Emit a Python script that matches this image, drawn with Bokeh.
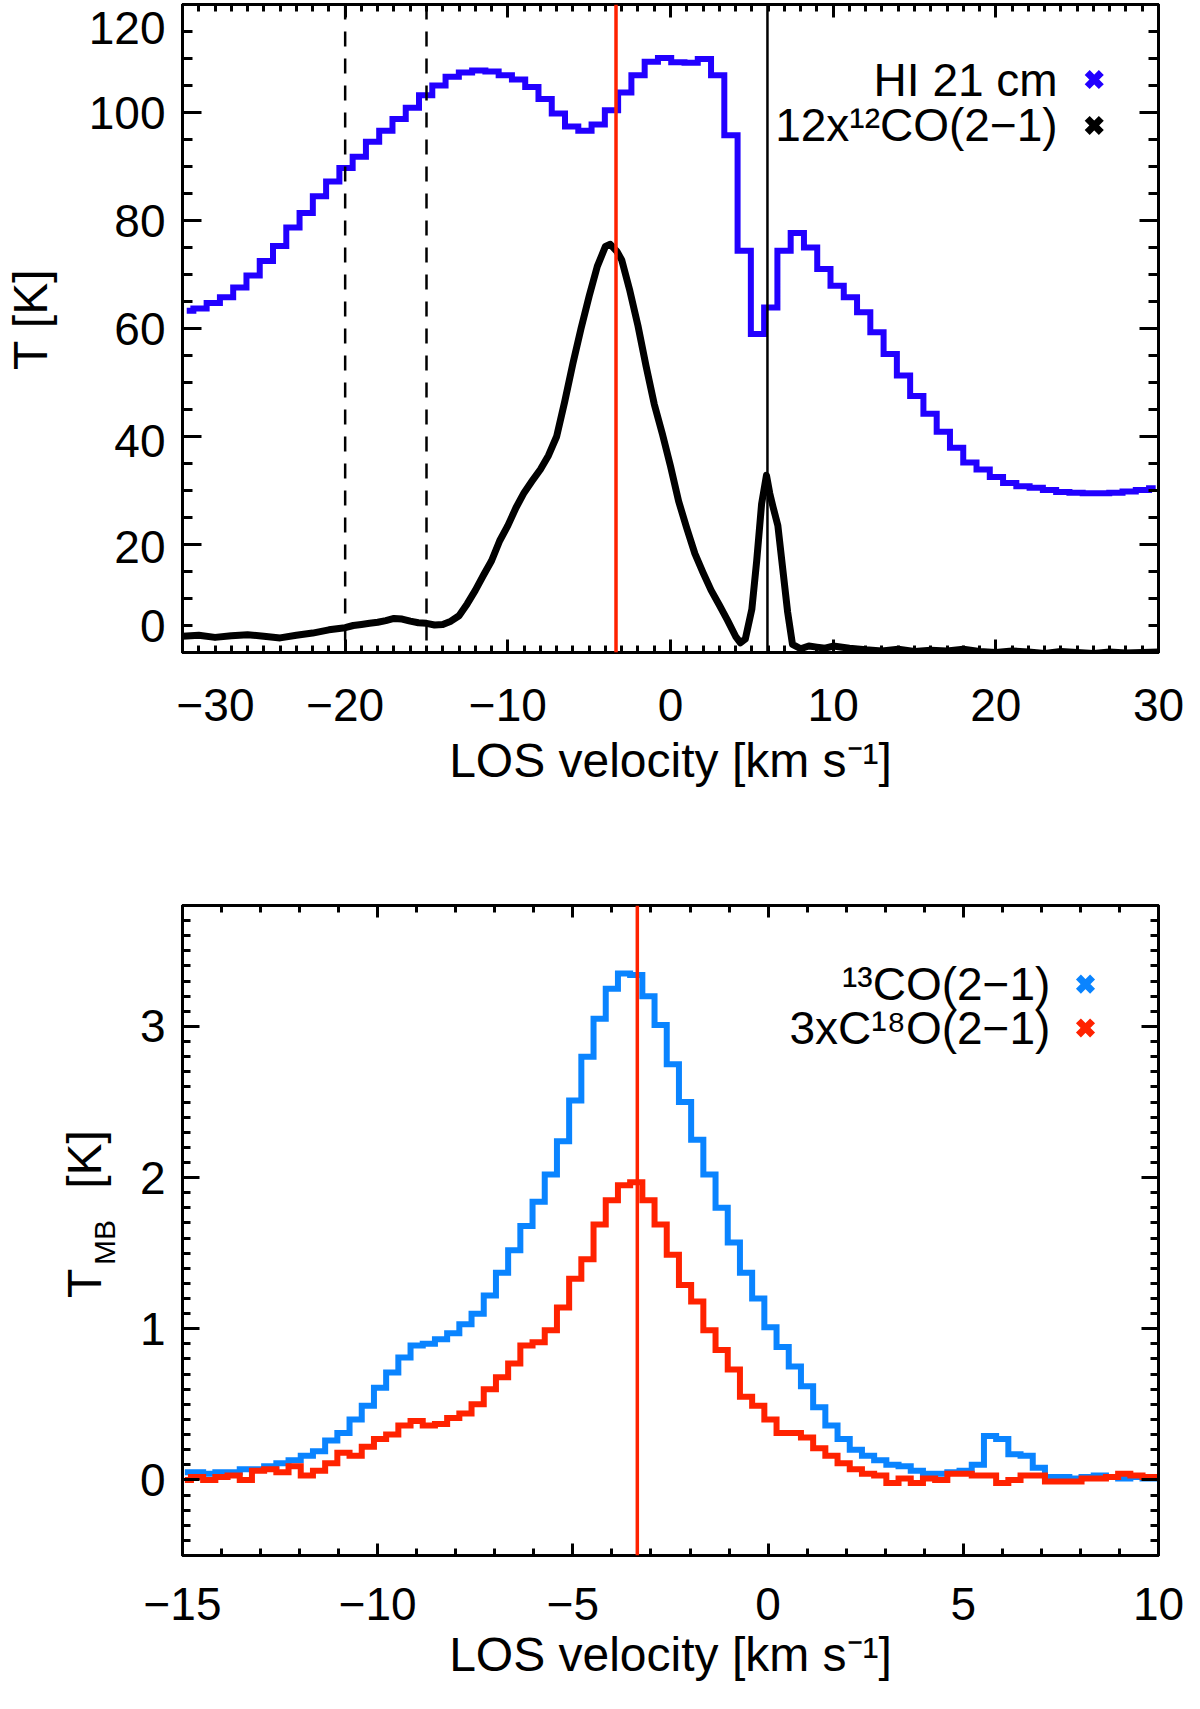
import math
import numpy as np
from bokeh.plotting import figure
from bokeh.layouts import column, row
from bokeh.models import (Range1d, LinearAxis, SingleIntervalTicker, Span, Label,
                          CustomJSTickFormatter)
from bokeh.core.properties import value
from bokeh.embed import file_html
from bokeh.resources import INLINE

FONT = "Liberation Sans"

# top panel: HI 21 cm spectrum (channel grid) and 12x 12CO(2-1)
hi_v0 = -29.74
hi_dv = 0.816
hi_t = [63.3, 63.7, 64.7, 65.8, 67.6, 69.8, 72.5, 75.3, 78.7, 81.4,
        84.5, 87.2, 89.7, 91.8, 94.6, 96.6, 98.8, 100.9, 103.2, 105.0,
        106.6, 107.4, 107.8, 107.6, 106.9, 106.1, 104.7, 102.5, 99.8, 97.4,
        96.6, 97.8, 100.4, 103.7, 106.9, 109.4, 110.1, 109.3, 109.2, 109.9,
        106.9, 95.8, 74.4, 59.0, 63.9, 74.4, 77.7, 75.0, 71.0, 67.9,
        65.8, 63.0, 59.3, 55.3, 51.3, 47.5, 44.2, 40.9, 37.9, 35.2,
        33.9, 32.5, 31.4, 30.8, 30.5, 30.1, 29.7, 29.6, 29.5, 29.5,
        29.6, 29.8, 30.1, 30.4]

co_v = [-30, -29, -28, -27, -26, -25, -24, -23, -22, -21,
        -20, -19.5, -19, -18.5, -18, -17.5, -17, -16.5, -16, -15.5,
        -15, -14.5, -14, -13.5, -13, -12.5, -12, -11.5, -11, -10.5,
        -10, -9.5, -9, -8.5, -8, -7.5, -7, -6.5, -6, -5.5,
        -5, -4.5, -4, -3.7, -3.3, -3, -2.5, -2, -1.5, -1,
        -0.5, 0, 0.5, 1, 1.5, 2, 2.5, 3, 3.5, 4,
        4.3, 4.6, 5, 5.3, 5.6, 5.9, 6.1, 6.3, 6.6, 6.9,
        7.2, 7.5, 8, 8.5, 9, 9.5, 10, 11, 12, 13,
        14, 15, 16, 17, 18, 19, 20, 21, 22, 23,
        24, 25, 26, 27, 28, 29, 30]
co_t = [3.0, 3.2, 2.8, 3.1, 3.3, 3.0, 2.7, 3.2, 3.6, 4.2,
        4.6, 5.0, 5.2, 5.4, 5.6, 5.9, 6.3, 6.2, 5.8, 5.5,
        5.4, 5.1, 5.2, 5.8, 6.8, 9.0, 11.5, 14.3, 17.0, 20.7,
        23.5, 26.8, 29.6, 31.8, 33.9, 36.5, 40.0, 46.5, 53.5, 60.0,
        66.0, 71.5, 75.2, 75.6, 74.3, 72.7, 67.0, 60.5, 53.0, 46.0,
        40.5, 34.5, 28.0, 23.0, 18.3, 14.8, 11.5, 8.8, 6.0, 3.0,
        1.8, 2.5, 8.0, 17.0, 27.5, 32.8, 29.5, 27.0, 23.5, 15.5,
        7.5, 1.5, 0.7, 1.2, 1.0, 0.8, 1.2, 0.8, 0.5, 0.3,
        0.6, 0.2, 0.4, 0.3, 0.6, 0.2, 0.0, 0.3, 0.1, -0.2,
        0.2, 0.0, -0.2, 0.1, -0.1, 0.0, 0.1]

v_peak = -3.35
v_abs = 5.96
v_dash = [-20, -15]

# y tick labels of the top panel (the end labels sit inside the frame, as in the original)
t_ticks = ["0", "20", "40", "60", "80", "100", "120"]
t_tick_pos = [5.0, 19.5, 39.1, 59.9, 80.0, 99.9, 115.6]

# bottom panel: 13CO(2-1) and 3x C18O(2-1)
mol_v0 = -14.94
mol_dv = 0.3125
co13_t = [0.05, 0.05, 0.04, 0.05, 0.05, 0.07, 0.07, 0.09, 0.11, 0.13,
          0.16, 0.19, 0.26, 0.31, 0.40, 0.49, 0.61, 0.71, 0.81, 0.89,
          0.90, 0.93, 0.97, 1.03, 1.10, 1.22, 1.37, 1.52, 1.68, 1.84,
          2.02, 2.24, 2.51, 2.80, 3.05, 3.25, 3.35, 3.34, 3.20, 3.01,
          2.75, 2.50, 2.25, 2.02, 1.80, 1.57, 1.37, 1.20, 1.01, 0.88,
          0.75, 0.62, 0.48, 0.36, 0.27, 0.20, 0.16, 0.13, 0.10, 0.09,
          0.06, 0.04, 0.04, 0.05, 0.06, 0.10, 0.29, 0.27, 0.17, 0.16,
          0.08, 0.02, 0.02, 0.01, 0.02, 0.03, 0.02, 0.01, 0.02, 0.01, 0.02]
c18o_t = [0.00, 0.02, 0.00, 0.02, 0.03, 0.00, 0.06, 0.07, 0.05, 0.09,
          0.03, 0.06, 0.11, 0.18, 0.16, 0.22, 0.27, 0.30, 0.36, 0.39,
          0.36, 0.37, 0.41, 0.44, 0.50, 0.60, 0.68, 0.77, 0.89, 0.91,
          0.99, 1.14, 1.33, 1.46, 1.69, 1.85, 1.95, 1.97, 1.85, 1.69,
          1.49, 1.29, 1.18, 0.99, 0.86, 0.73, 0.55, 0.49, 0.40, 0.31,
          0.31, 0.28, 0.21, 0.16, 0.11, 0.07, 0.04, 0.03, -0.02, 0.01,
          -0.02, 0.01, 0.00, 0.04, 0.04, 0.03, 0.03, -0.02, 0.00, 0.03,
          0.03, -0.01, -0.01, -0.01, 0.01, 0.01, 0.02, 0.04, 0.03, 0.02, 0.02]

HI_BLUE = "#2200ff"
CO13_BLUE = "#0a84ff"
RED = "#ff2200"
TICK_FS = "46px"
TITLE_FS = "48px"
LEG_FS = "46px"
XLABEL = "LOS velocity [km s\u207b\u00b9]"
W = 1184


def framed(height, width, xr, yr, top, bottom, left, xt, yt, xmaj, xmin, ymaj, ymin,
           x_standoff, title_standoff, y_labels=True):
    p = figure(width=width, height=height, output_backend="svg", toolbar_location=None,
               x_range=xr, y_range=yr, x_axis_location=None, y_axis_location=None,
               min_border_left=left, min_border_right=26, min_border_top=top,
               min_border_bottom=bottom)
    blank = CustomJSTickFormatter(code="return ''")
    axes = {"below": LinearAxis(ticker=xt),
            "above": LinearAxis(ticker=xt, formatter=blank),
            "left": LinearAxis(ticker=yt) if y_labels else LinearAxis(ticker=yt, formatter=blank),
            "right": LinearAxis(ticker=yt, formatter=blank)}
    for side, ax in axes.items():
        ax.axis_line_width = 3
        ax.major_tick_line_width = 3
        ax.minor_tick_line_width = 3
        ax.major_tick_out = 0
        ax.minor_tick_out = 0
        ax.major_label_text_font = FONT
        ax.major_label_text_font_size = TICK_FS
        ax.major_label_text_color = "black"
        if side in ("below", "above"):
            ax.major_tick_in = xmaj
            ax.minor_tick_in = xmin
        else:
            ax.major_tick_in = ymaj
            ax.minor_tick_in = ymin
        if side in ("above", "right") or (side == "left" and not y_labels):
            ax.major_label_standoff = 0
            ax.major_label_text_font_size = "1px"
        p.add_layout(ax, side)
    ax = axes["below"]
    ax.major_label_standoff = x_standoff
    ax.axis_label = XLABEL
    ax.axis_label_standoff = title_standoff
    ax.axis_label_text_font = FONT
    ax.axis_label_text_font_size = TITLE_FS
    ax.axis_label_text_font_style = "normal"
    ax.axis_label_text_color = "black"
    axes["left"].major_label_standoff = 17
    p.outline_line_color = "black"
    p.outline_line_width = 3
    p.grid.visible = False
    return p


def side_panel(height, width, yr, top, bottom):
    # frames in a row are aligned, so this shares the neighbour's vertical scale
    q = figure(width=width, height=height, output_backend="svg", toolbar_location=None,
               x_range=Range1d(0, width), y_range=yr, x_axis_location=None,
               y_axis_location=None, min_border_left=0, min_border_right=0,
               min_border_top=top, min_border_bottom=bottom)
    q.outline_line_color = None
    q.grid.visible = False
    return q


def legend_text(p, x, y, s):
    p.add_layout(Label(x=x, y=y, text=s, text_align="right", text_baseline="middle",
                       text_font=FONT, text_font_size=LEG_FS, text_color="black"))


# ---------------- top panel ----------------
H1, T1, B1, L1 = 817, 4, 165, 176
yr1 = Range1d(0, 120)
p1 = framed(H1, W - L1, Range1d(-30, 30), yr1, T1, B1, 190 - 8 - L1,
            SingleIntervalTicker(interval=10, num_minor_ticks=10),
            SingleIntervalTicker(interval=20, num_minor_ticks=4), 13, 7, 19, 10,
            x_standoff=36, title_standoff=10, y_labels=False)

hi_v = hi_v0 + hi_dv * np.arange(len(hi_t))
p1.step(hi_v, hi_t, mode="center", line_color=HI_BLUE, line_width=6, line_join="miter")
p1.line(co_v, co_t, line_color="black", line_width=7, line_join="round")

for v in v_dash:
    p1.add_layout(Span(location=v, dimension="height", line_color="black",
                       line_width=2.5, line_dash="15 12"))
p1.add_layout(Span(location=v_abs, dimension="height", line_color="black", line_width=2.5))
p1.add_layout(Span(location=v_peak, dimension="height", line_color=RED, line_width=3.5))

leg1_names = ["HI 21 cm", "12x\u00b9\u00b2CO(2\u22121)"]
leg1_cols = [HI_BLUE, "black"]
leg1_y = [106.1, 97.6]
for name, col, ly in zip(leg1_names, leg1_cols, leg1_y):
    legend_text(p1, 23.8, ly, name)
    p1.scatter([26.05], [ly], marker="x", size=20, line_width=7, line_color=col)

s1 = side_panel(H1, L1, yr1, T1, B1)
s1.text(x=[165] * len(t_ticks), y=t_tick_pos, text=t_ticks, text_align="right",
        text_baseline="middle", text_font=value(FONT), text_font_size=TICK_FS,
        text_color="black")
s1.text(x=[30], y=[61.7], text=["T [K]"], angle=math.pi / 2, text_align="center",
        text_baseline="middle", text_font=value(FONT), text_font_size=TITLE_FS,
        text_color="black")

# ---------------- bottom panel ----------------
H2, T2, B2, L2 = 873, 88, 135, 124
yr2 = Range1d(-0.5, 3.8)
p2 = framed(H2, W - L2, Range1d(-15, 10), yr2, T2, B2, 190 - 8 - L2,
            SingleIntervalTicker(interval=5, num_minor_ticks=5),
            SingleIntervalTicker(interval=1, num_minor_ticks=10), 12, 7, 17, 8,
            x_standoff=32, title_standoff=5)

mol_v = mol_v0 + mol_dv * np.arange(len(co13_t))
p2.step(mol_v, co13_t, mode="center", line_color=CO13_BLUE, line_width=6, line_join="miter")
p2.step(mol_v, c18o_t, mode="center", line_color=RED, line_width=6, line_join="miter")
p2.add_layout(Span(location=v_peak, dimension="height", line_color=RED, line_width=3.5))

leg2_names = ["\u00b9\u00b3CO(2\u22121)", "3xC\u00b9\u2078O(2\u22121)"]
leg2_cols = [CO13_BLUE, RED]
leg2_y = [3.28, 2.99]
for name, col, ly in zip(leg2_names, leg2_cols, leg2_y):
    legend_text(p2, 7.23, ly, name)
    p2.scatter([8.13], [ly], marker="x", size=20, line_width=7, line_color=col)

s2 = side_panel(H2, L2, yr2, T2, B2)
s2.text(x=[84, 84], y=[1.30, 2.12], text=["T", "[K]"], angle=math.pi / 2,
        text_align="center", text_baseline="middle", text_font=value(FONT),
        text_font_size=TITLE_FS, text_color="black")
s2.text(x=[104], y=[1.57], text=["MB"], angle=math.pi / 2, text_align="center",
        text_baseline="middle", text_font=value(FONT), text_font_size="30px",
        text_color="black")

layout = column(row(s1, p1), row(s2, p2))
open("out.html", "w").write(file_html(layout, INLINE))
